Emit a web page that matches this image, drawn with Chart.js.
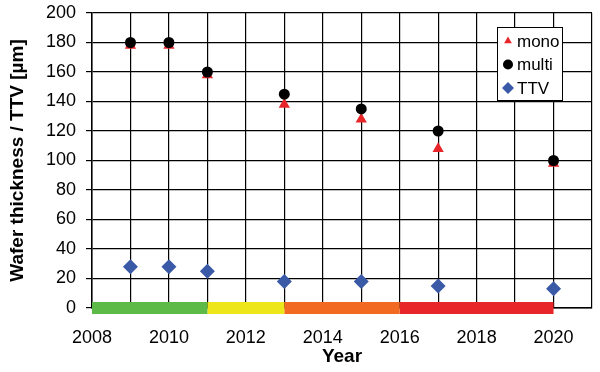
<!DOCTYPE html>
<html>
<head>
<meta charset="utf-8">
<script src="https://cdn.jsdelivr.net/npm/chart.js@4/dist/chart.umd.min.js"></script>
<style>
  html, body { margin: 0; padding: 0; background: #fff; }
  #wrap { width: 600px; height: 372px; }
</style>
</head>
<body>
<div id="wrap"><canvas id="chart"></canvas></div>
<script>
// years with data points
const years = [2009, 2010, 2011, 2013, 2015, 2017, 2020];
// wafer thickness, mono and multi [µm]
const monoValues = [178, 178, 158, 138, 128, 108, 98];
const multiValues = [180, 180, 160, 145, 135, 120, 100];
// total thickness variation [µm]
const ttvValues = [28, 28, 25, 18, 18, 15, 13];

// colored period bar along y = 0
const periodStarts = [2008, 2011, 2013, 2016];
const periodEnds = [2011, 2013, 2016, 2020];
const periodColors = ['#5dba47', '#ece61b', '#f26a22', '#e8262a'];

const FONT = '"Liberation Sans", Arial, sans-serif';

const toPoints = (values) => years.map((x, i) => ({ x, y: values[i] }));

const periodDatasets = periodStarts.map((start, i) => ({
    label: 'period' + i,
    data: [{ x: start, y: 0 }, { x: periodEnds[i], y: 0 }],
    showLine: true,
    borderColor: periodColors[i],
    borderWidth: 12,
    borderCapStyle: 'butt',
    pointRadius: 0,
    clip: false,
    order: 10,
}));

const datasets = [
    {
        label: 'multi',
        data: toPoints(multiValues),
        pointStyle: 'circle',
        pointRadius: 5.5,
        backgroundColor: '#000',
        borderColor: '#000',
        borderWidth: 0,
        order: 0,
    },
    {
        label: 'mono',
        data: toPoints(monoValues),
        pointStyle: 'triangle',
        pointRadius: 6.5,
        backgroundColor: '#e8262a',
        borderColor: '#e8262a',
        borderWidth: 0,
        order: 1,
    },
    {
        label: 'TTV',
        data: toPoints(ttvValues),
        pointStyle: 'rectRot',
        pointRadius: 7.5,
        backgroundColor: '#3a5aa8',
        borderColor: '#3a5aa8',
        borderWidth: 0,
        order: 2,
    },
    ...periodDatasets,
];

// legend entries in display order
const legendOrder = ['mono', 'multi', 'TTV'];
const legendRadius = { mono: 4.5, multi: 5, TTV: 6 };

// boxed legend inside the plot area, top right
const boxLegend = {
    id: 'boxLegend',
    afterDatasetsDraw(chart) {
        const { ctx, chartArea } = chart;
        const left = chartArea.right - 95;
        const top = chartArea.top + 14;
        const w = 65, h = 73;
        ctx.save();
        ctx.fillStyle = '#fff';
        ctx.fillRect(left, top, w, h);
        ctx.strokeStyle = '#000';
        ctx.lineWidth = 1;
        ctx.strokeRect(left + 0.5, top + 0.5, w, h);
        ctx.font = '17px ' + FONT;
        ctx.textBaseline = 'middle';
        legendOrder.forEach((name, i) => {
            const ds = chart.data.datasets.find((d) => d.label === name);
            const cy = top + 14 + i * 23.5;
            ctx.fillStyle = ds.backgroundColor;
            ctx.strokeStyle = ds.backgroundColor;
            Chart.helpers.drawPoint(ctx, {
                pointStyle: ds.pointStyle,
                radius: legendRadius[name],
                borderWidth: 0,
                rotation: 0,
            }, left + 11, cy);
            ctx.fillStyle = '#000';
            ctx.fillText(name, left + 20, cy + 1);
        });
        ctx.restore();
    },
};

new Chart(document.getElementById('chart'), {
    type: 'scatter',
    data: { datasets },
    options: {
        animation: false,
        responsive: true,
        maintainAspectRatio: false,
        layout: { padding: { top: 13, right: 8, left: 0, bottom: 0 } },
        plugins: {
            legend: { display: false },
            tooltip: { enabled: false },
        },
        scales: {
            x: {
                type: 'linear',
                min: 2008,
                max: 2021,
                afterFit: (scale) => {
                    scale.height = 64;
                    scale.paddingLeft = 0;
                    scale.paddingRight = 0;
                },
                ticks: {
                    stepSize: 1,
                    autoSkip: false,
                    maxRotation: 0,
                    padding: 19,
                    color: '#000',
                    font: { family: FONT, size: 18 },
                    callback: (v) => (v % 2 === 0 && v <= 2020 ? String(v) : ''),
                },
                grid: { color: '#000', lineWidth: 1.2, drawTicks: false },
                border: { color: '#000', width: 1.5 },
                title: {
                    display: true,
                    text: 'Year',
                    color: '#000',
                    padding: { top: 0 },
                    font: { family: FONT, size: 19, weight: 'bold' },
                },
            },
            y: {
                min: 0,
                max: 200,
                afterFit: (scale) => {
                    scale.width = 92;
                    scale.paddingTop = 0;
                    scale.paddingBottom = 0;
                },
                ticks: {
                    stepSize: 20,
                    padding: 10,
                    color: '#000',
                    font: { family: FONT, size: 18 },
                },
                grid: { color: '#000', lineWidth: 1.2, tickLength: 6 },
                border: { color: '#000', width: 1.5 },
                title: {
                    display: true,
                    text: 'Wafer thickness / TTV [µm]',
                    color: '#000',
                    padding: { top: 6, bottom: 2 },
                    font: { family: FONT, size: 19, weight: 'bold' },
                },
            },
        },
    },
    plugins: [boxLegend],
});
</script>
</body>
</html>
